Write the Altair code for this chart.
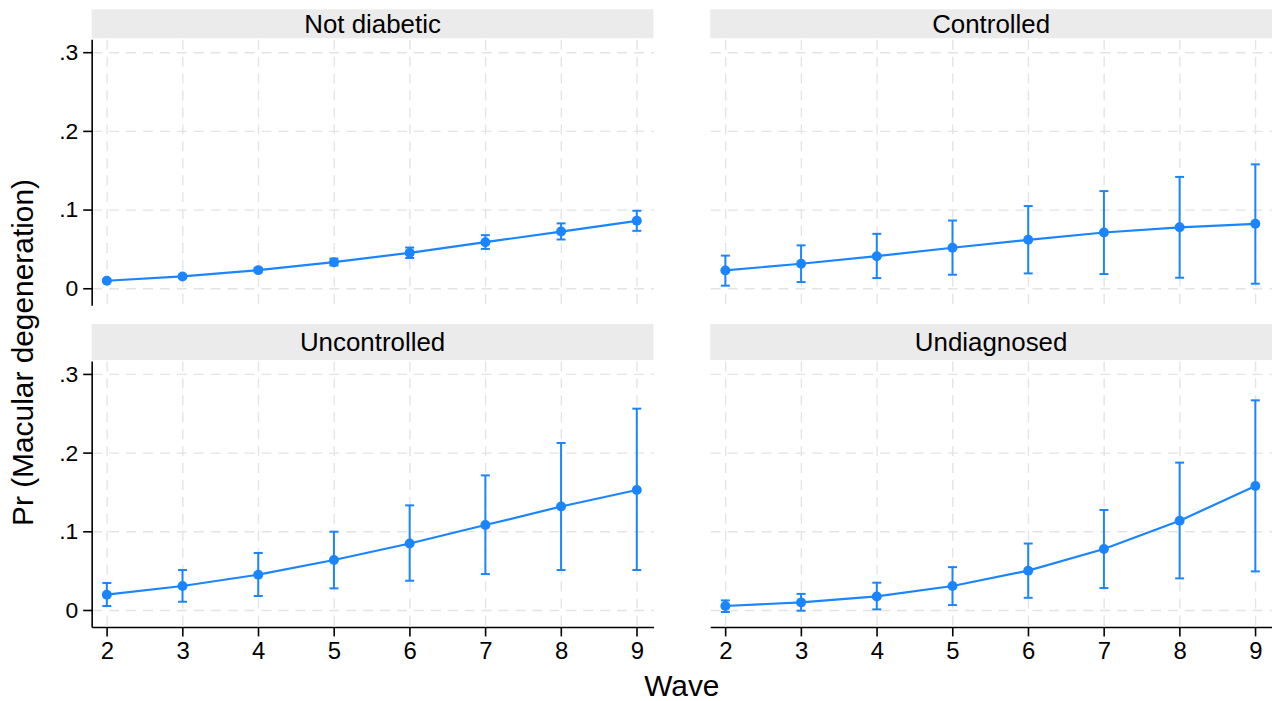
import altair as alt
import pandas as pd

waves = [2, 3, 4, 5, 6, 7, 8, 9]
groups = ["Not diabetic", "Controlled", "Uncontrolled", "Undiagnosed"]

est_not = [0.0101, 0.0156, 0.0236, 0.0337, 0.0456, 0.0591, 0.0726, 0.0862]
lo_not = [0.0090, 0.0138, 0.0212, 0.0295, 0.0390, 0.0505, 0.0625, 0.0735]
hi_not = [0.0113, 0.0175, 0.0262, 0.0382, 0.0523, 0.0680, 0.0830, 0.0990]

est_con = [0.0232, 0.0317, 0.0413, 0.0520, 0.0621, 0.0714, 0.0780, 0.0824]
lo_con = [0.0038, 0.0084, 0.0135, 0.0177, 0.0194, 0.0186, 0.0139, 0.0063]
hi_con = [0.0420, 0.0550, 0.0697, 0.0866, 0.1050, 0.1240, 0.1420, 0.1580]

est_unc = [0.0200, 0.0310, 0.0454, 0.0640, 0.0850, 0.1085, 0.1320, 0.1530]
lo_unc = [0.0056, 0.0110, 0.0183, 0.0280, 0.0377, 0.0462, 0.0513, 0.0513]
hi_unc = [0.0348, 0.0513, 0.0730, 0.1000, 0.1335, 0.1716, 0.2128, 0.2564]

est_und = [0.0056, 0.0102, 0.0178, 0.0310, 0.0505, 0.0780, 0.1140, 0.1580]
lo_und = [-0.0020, -0.0004, 0.0013, 0.0068, 0.0160, 0.0284, 0.0407, 0.0496]
hi_und = [0.0127, 0.0210, 0.0352, 0.0550, 0.0850, 0.1276, 0.1878, 0.2670]

series = {
    "Not diabetic": (est_not, lo_not, hi_not),
    "Controlled": (est_con, lo_con, hi_con),
    "Uncontrolled": (est_unc, lo_unc, hi_unc),
    "Undiagnosed": (est_und, lo_und, hi_und),
}

BLUE = "#1a85ff"
FONT = "Liberation Sans"
W, H = 564, 267
GAP = 57

xscale = alt.Scale(domain=[1.8, 9.22], nice=False, zero=False)
yscale = alt.Scale(domain=[-0.021, 0.317], nice=False, zero=False)


def panel(name, show_x, show_y):
    est, lo, hi = series[name]
    df = pd.DataFrame({"wave": waves, "est": est, "lo": lo, "hi": hi})
    x_axis = alt.Axis(
        values=waves, grid=True, labels=show_x, ticks=show_x, domain=show_x,
        tickSize=9, labelPadding=4, labelFontSize=24,
        title="Wave" if (show_x and show_y) else None,
        titleX=592, titlePadding=8, titleFontSize=30, titleFontWeight="normal",
    )
    y_axis = alt.Axis(
        values=[0, 0.1, 0.2, 0.3], grid=True, labels=show_y, ticks=show_y, domain=show_y,
        tickSize=9, labelPadding=5, labelFontSize=23,
        labelExpr="datum.value == 0 ? '0' : replace(format(datum.value, '.1f'), '0.', '.')",
        title="Pr (Macular degeneration)" if (show_x and show_y) else None,
        titleY=-9, titlePadding=20, titleFontSize=30, titleFontWeight="normal",
    )
    base = alt.Chart(df).encode(x=alt.X("wave:Q", scale=xscale, axis=x_axis))
    rules = base.mark_rule(color=BLUE, strokeWidth=2).encode(
        y=alt.Y("lo:Q", scale=yscale, axis=y_axis), y2="hi:Q"
    )
    cap_lo = base.mark_tick(orient="horizontal", size=9, thickness=2, color=BLUE, opacity=1).encode(
        y=alt.Y("lo:Q", scale=yscale, axis=y_axis)
    )
    cap_hi = base.mark_tick(orient="horizontal", size=9, thickness=2, color=BLUE, opacity=1).encode(
        y=alt.Y("hi:Q", scale=yscale, axis=y_axis)
    )
    line = base.mark_line(color=BLUE, strokeWidth=2.2).encode(
        y=alt.Y("est:Q", scale=yscale, axis=y_axis)
    )
    pts = base.mark_circle(color=BLUE, size=100, opacity=1).encode(
        y=alt.Y("est:Q", scale=yscale, axis=y_axis)
    )
    return alt.layer(rules, cap_lo, cap_hi, line, pts).properties(width=W, height=H)


def header(name, h):
    return alt.Chart(pd.DataFrame({"label": [name]})).mark_text(
        font=FONT, fontSize=26, color="black", baseline="middle", align="center"
    ).encode(
        text="label:N", x=alt.value(W / 2), y=alt.value(h / 2 + 1)
    ).properties(width=W, height=h, view=alt.ViewBackground(fill="#ebebeb", stroke=None))


def spacer(h):
    return alt.Chart(pd.DataFrame({"a": [0]})).mark_point(opacity=0).encode(
        x=alt.value(0), y=alt.value(0)
    ).properties(width=W, height=h)


cells = [
    header(groups[0], 29), header(groups[1], 29),
    panel(groups[0], False, True), panel(groups[1], False, False),
    spacer(17), spacer(17),
    header(groups[2], 36), header(groups[3], 36),
    panel(groups[2], True, True), panel(groups[3], True, False),
]

chart = alt.concat(
    *cells, columns=2, spacing=alt.RowColnumber(row=1, column=GAP), bounds="flush"
).properties(
    padding=0, background="white"
).configure_view(stroke=None).configure_axis(
    labelFont=FONT, titleFont=FONT, labelColor="black", titleColor="black",
    domainColor="black", domainWidth=1.6, tickColor="black", tickWidth=1.6,
    gridColor="#e4e4e4", gridDash=[10, 7], gridWidth=1.4,
)

chart.save("out.html", embed_options={"renderer": "svg", "actions": False})
